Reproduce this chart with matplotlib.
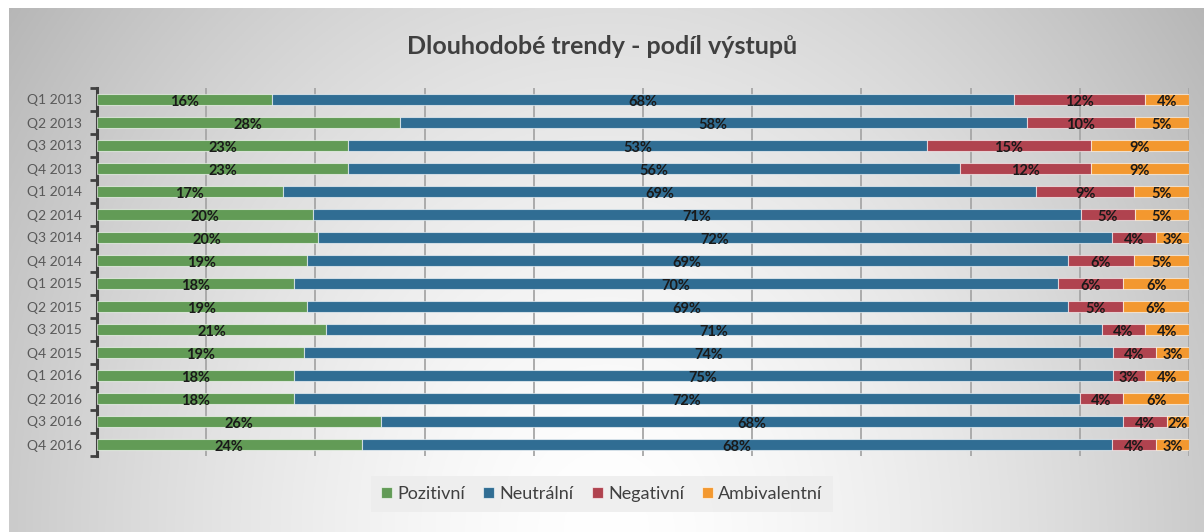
import numpy as np
import matplotlib
matplotlib.use("Agg")
import matplotlib.pyplot as plt

categories = ["Q1 2013", "Q2 2013", "Q3 2013", "Q4 2013",
              "Q1 2014", "Q2 2014", "Q3 2014", "Q4 2014",
              "Q1 2015", "Q2 2015", "Q3 2015", "Q4 2015",
              "Q1 2016", "Q2 2016", "Q3 2016", "Q4 2016"]
pozitivni = [16, 28, 23, 23, 17, 20, 20, 19, 18, 19, 21, 19, 18, 18, 26, 24]
neutralni = [68, 58, 53, 56, 69, 71, 72, 69, 70, 69, 71, 74, 75, 72, 68, 68]
negativni = [12, 10, 15, 12, 9, 5, 4, 6, 6, 5, 4, 4, 3, 4, 4, 4]
ambivalentni = [4, 5, 9, 9, 5, 5, 3, 5, 6, 6, 4, 3, 4, 6, 2, 3]
series_names = ["Pozitivní", "Neutrální", "Negativní", "Ambivalentní"]
colors = ["#629b56", "#306d93", "#b0434f", "#f3982f"]
title = "Dlouhodobé trendy - podíl výstupů"

W, H = 1204, 532
fig = plt.figure(figsize=(W / 100, H / 100), dpi=100)
fig.patch.set_facecolor("white")

# background gradient panel
bg = fig.add_axes([9 / W, 0, 1 - 9 / W, 1 - 8 / H], zorder=-10)
bg.set_axis_off()
xx, yy = np.meshgrid(np.linspace(-1, 1, 400), np.linspace(0, 1, 200))
r = np.sqrt((xx * 0.95) ** 2 + ((1 - yy) * 1.0) ** 2 * 0.5)
val = 1.0 - 0.22 * np.clip(r, 0, 1.3) ** 1.5
bg.imshow(np.dstack([val, val, val]), aspect="auto", extent=[0, 1, 0, 1],
          origin="upper", vmin=0, vmax=1)
bg.set_xlim(0, 1)
bg.set_ylim(0, 1)

ax = fig.add_axes([97 / W, 1 - 456 / H, (1189 - 97) / W, (456 - 88) / H])
ax.set_facecolor("none")

data = np.array([pozitivni, neutralni, negativni, ambivalentni], dtype=float)
totals = data.sum(axis=0)
norm = data / totals * 100
y = np.arange(len(categories))
left = np.zeros(len(categories))
for i in range(4):
    ax.barh(y, norm[i], left=left, height=0.45, color=colors[i],
            edgecolor=(1, 1, 1, 0.6), linewidth=0.8, label=series_names[i], zorder=3)
    for j in range(len(categories)):
        ax.text(left[j] + norm[i][j] / 2, y[j] + 0.1, f"{int(data[i][j])}%",
                ha="center", va="center", fontsize=10.5, fontweight="bold",
                color="#1a1a1a", family="Lato", zorder=4)
    left += norm[i]

ax.set_xlim(0, 100)
ax.set_ylim(len(categories) - 0.5, -0.5)
ax.set_xticks(np.arange(10, 101, 10))
ax.tick_params(axis="x", length=0, labelbottom=False)
ax.grid(axis="x", color="#a6a6a6", linewidth=1.3, zorder=0)
ax.set_axisbelow(True)

ax.set_yticks(y)
ax.set_yticklabels(categories, fontsize=10, color="#595959", family="Lato")
ax.tick_params(axis="y", length=0, pad=11)
ax.set_yticks(np.arange(-0.5, len(categories) + 0.5, 1), minor=True)
ax.tick_params(axis="y", which="minor", length=5, width=2, color="#404040")

for s in ["top", "right", "bottom"]:
    ax.spines[s].set_visible(False)
ax.spines["left"].set_color("#404040")
ax.spines["left"].set_linewidth(2.2)

fig.text(0.5, 1 - 47 / H, title, ha="center", va="center", fontsize=18,
         fontweight="bold", color="#404040", family="Lato")

leg = fig.legend(loc="center", bbox_to_anchor=(0.5, 1 - 494 / H), ncol=4,
                 frameon=True, handlelength=0.6, handleheight=0.6,
                 handletextpad=0.3, columnspacing=1.0, borderpad=0.35,
                 prop={"family": "Lato", "size": 13})
leg.get_frame().set_facecolor("#ececec")
leg.get_frame().set_edgecolor("none")
leg.get_frame().set_alpha(0.8)
leg.get_frame().set_boxstyle("square", pad=0.2)
for t in leg.get_texts():
    t.set_color("#404040")

fig.savefig("out.png", dpi=100)
